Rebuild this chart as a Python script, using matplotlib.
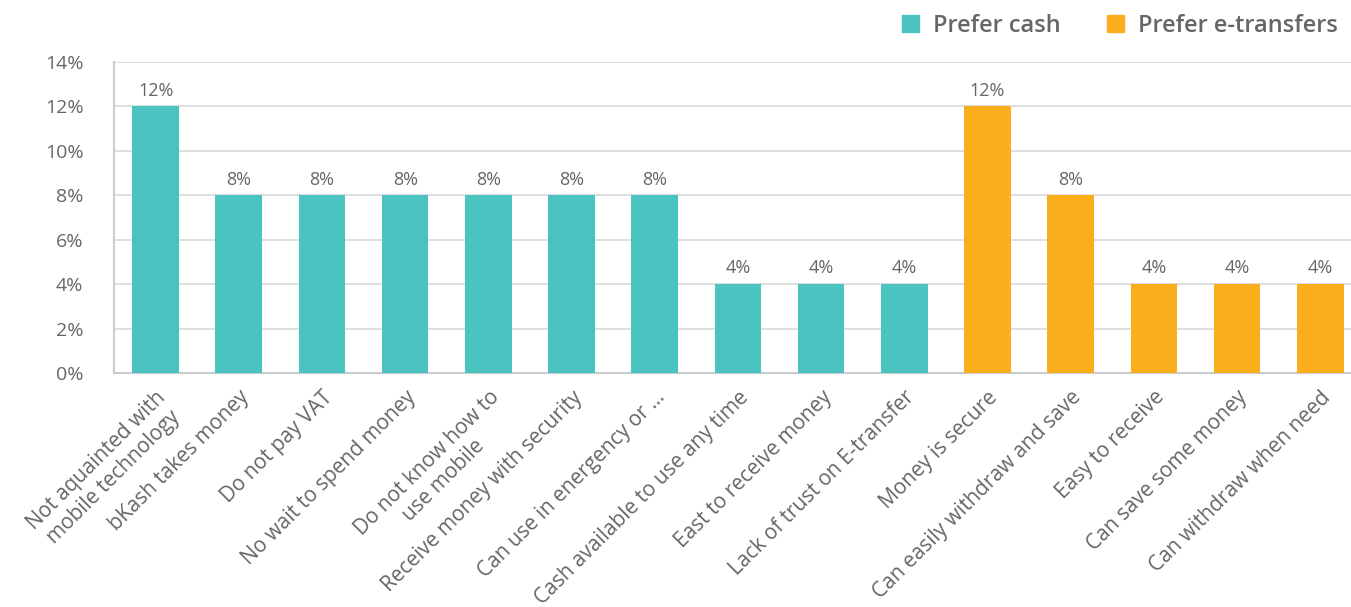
import matplotlib.pyplot as plt
from matplotlib.patches import Patch

plt.rcParams['font.family'] = ['Open Sans', 'DejaVu Sans']

cash_labels = ['Not aquainted with\nmobile technology', 'bKash takes money', 'Do not pay VAT',
               'No wait to spend money', 'Do not know how to\nuse mobile',
               'Receive money with security', 'Can use in energency or ...',
               'Cash available to use any time', 'East to receive money',
               'Lack of trust on E-transfer']
cash_values = [12, 8, 8, 8, 8, 8, 8, 4, 4, 4]

etr_labels = ['Money is secure', 'Can easily withdraw and save', 'Easy to receive',
              'Can save some money', 'Can withdraw when need']
etr_values = [12, 8, 4, 4, 4]

teal = '#4BC3C0'
orange = '#FBAE1B'
grey = '#666666'

fig = plt.figure(figsize=(13.51, 6.07), dpi=100)
ax = fig.add_axes([114 / 1351, 1 - 373 / 607, (1351 - 114) / 1351, (373 - 62) / 607])

labels = cash_labels + etr_labels
values = cash_values + etr_values
colors = [teal] * len(cash_values) + [orange] * len(etr_values)
x = list(range(len(values)))

bars = ax.bar(x, values, width=0.56, color=colors, zorder=3)
for b, v in zip(bars, values):
    ax.text(b.get_x() + b.get_width() / 2, v + 0.3, f'{v}%', ha='center', va='bottom',
            fontsize=13, color=grey)

ax.set_xlim(-0.5, 14.37)
ax.set_ylim(0, 14)
ax.set_yticks(range(0, 15, 2))
ax.set_yticklabels([f'{t}%' for t in range(0, 15, 2)], fontsize=14, color=grey)
ax.set_xticks(x)
ax.set_xticklabels(labels, rotation=45, ha='right', rotation_mode='anchor',
                   fontsize=15, color=grey, multialignment='center')
ax.tick_params(axis='both', length=0)
ax.tick_params(axis='x', pad=10)
ax.tick_params(axis='y', pad=22)

ax.grid(axis='y', color='#D9D9D9', linewidth=1.2, zorder=0)
for s in ['top', 'right']:
    ax.spines[s].set_visible(False)
for s in ['left', 'bottom']:
    ax.spines[s].set_color('#C8CCCC')
    ax.spines[s].set_linewidth(1.5)

handles = [Patch(color=teal, label='Prefer cash'), Patch(color=orange, label='Prefer e-transfers')]
fig.legend(handles=handles, loc='upper right', bbox_to_anchor=(1.006, 1.012), ncol=2,
           frameon=False, handlelength=0.72, handleheight=0.72, handletextpad=0.6,
           columnspacing=1.95, prop={'size': 17, 'weight': 'semibold'}, labelcolor=grey)

fig.savefig('out.png', dpi=100)
